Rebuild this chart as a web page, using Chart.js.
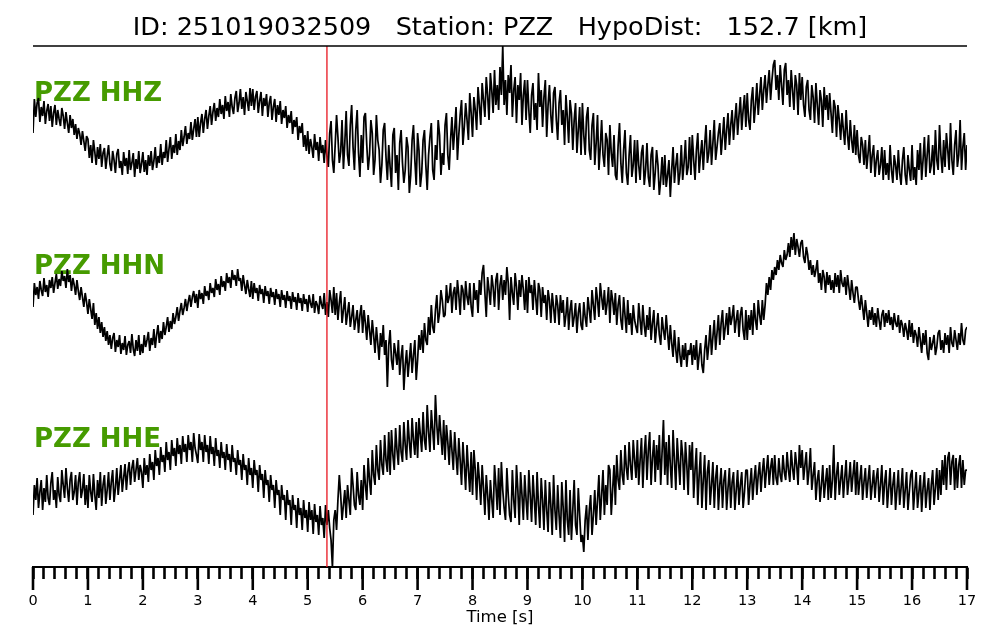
<!DOCTYPE html>
<html><head><meta charset="utf-8">
<script src="https://cdn.jsdelivr.net/npm/chart.js@4.4.1/dist/chart.umd.min.js"></script>
<style>html,body{margin:0;padding:0;background:#fff}canvas{display:block}</style>
</head><body>
<canvas id="c" width="1000" height="640"></canvas>
<script>
// ---------------- data ----------------
const titleText = 'ID: 251019032509   Station: PZZ   HypoDist:   152.7 [km]';
const channels = ['PZZ HHZ', 'PZZ HHN', 'PZZ HHE'];
const pickTime = 5.35;                // s (red marker)
const timeRange = [0, 17];            // s, samples evenly spaced (0.025 s)
const majorTickLabels = ['0','1','2','3','4','5','6','7','8','9','10','11','12','13','14','15','16','17'];
const minorTickStep = 0.2;
const axisTitle = 'Time [s]';

// amplitudes (arbitrary units), 40 samples per second, 0..17 s
const hhz = [
-8,26,8,22,27,3,18,9,24,1,14,21,4,19,-2,12,20,0,15,6,-1,17,9,-4,13,2,-8,10,-3,6,-10,1,-14,-3,-9,-20,-6,-16,-26,-11,
-14,-33,-20,-38,-15,-27,-40,-22,-34,-19,-42,-28,-23,-44,-31,-20,-39,-46,-26,-35,-48,-29,-24,-43,-36,-50,-27,-41,-33,-49,-25,-45,-38,-28,-52,-34,-44,-26,-48,-39,
-27,-47,-35,-50,-30,-41,-26,-45,-36,-22,-43,-31,-38,-19,-40,-27,-33,-15,-37,-24,-12,-34,-20,-28,-9,-30,-16,-25,-5,-21,-12,-1,-19,-8,-14,3,-15,-4,6,-12,
8,-12,2,11,-8,6,15,-4,9,19,0,13,22,4,17,8,26,11,20,6,29,14,23,8,31,18,11,27,34,13,22,36,16,28,10,33,24,14,37,19,
36,15,28,34,12,24,33,9,27,19,31,8,22,29,5,18,26,3,20,10,24,1,15,7,19,-3,10,2,14,-9,5,-2,8,-15,-1,-8,2,-22,-10,-26,
-6,-29,-14,-22,-33,-9,-25,-17,-36,-12,-28,-20,-38,-15,-31,-42,-8,4,-35,-48,-20,10,-12,-38,-27,5,-44,-18,14,-30,-41,0,20,-22,-45,-5,15,-28,-52,-10,
-38,8,12,-20,-45,-30,5,-8,-50,-35,10,-15,-25,-58,-40,-5,2,-32,-55,-20,-42,-62,-10,-3,-48,-30,-65,-18,-5,-38,-58,-45,-12,-22,-68,-50,-15,0,-35,-60,
-8,-25,-62,-48,-15,-5,-40,-65,-30,-12,2,-45,-55,-20,-35,5,-10,-50,-28,-40,0,12,-30,-45,-15,8,-25,-5,18,-35,-10,10,25,-20,-2,22,5,-15,32,12,
-12,28,15,-5,38,20,0,42,25,8,48,30,5,52,35,12,55,20,40,15,58,30,79,20,45,10,50,32,60,8,35,48,2,40,25,52,0,30,45,5,
45,15,-8,30,42,5,22,-5,52,18,35,-2,28,45,-12,20,40,10,-8,32,38,5,-15,22,35,0,15,-20,30,8,-18,25,12,-25,5,22,-28,-5,18,-30,
22,-10,-30,8,18,-25,-35,0,12,-40,-18,10,-45,-22,5,-30,-42,-8,-15,-50,0,-28,-42,-10,-50,-55,-20,2,-38,-58,-25,-5,-48,-60,-30,-10,-52,-40,-15,-58,
-15,-40,-55,-28,-20,-60,-45,-18,-52,-62,-30,-22,-65,-48,-25,-40,-70,-55,-32,-60,-30,-62,-50,-35,-72,-45,-22,-58,-40,-28,-60,-48,-20,-55,-38,-15,-50,-42,-12,-50,
-10,-35,-55,-25,-8,-48,-30,-15,-45,-20,0,-38,-28,-5,-40,-18,5,-35,-22,-8,2,-30,-12,8,-25,-5,12,-20,0,15,-15,5,22,-10,10,28,-5,15,30,-2,
32,5,-5,25,38,2,20,42,10,30,48,15,35,50,22,40,55,25,45,60,65,35,50,25,60,40,20,55,62,30,45,18,55,35,15,50,40,10,52,25,
48,20,8,38,45,15,5,40,28,2,42,20,0,35,25,-2,38,15,30,5,32,12,-8,25,18,-12,20,5,-15,12,-5,-20,15,-10,-25,5,-15,-28,0,-30,
-5,-30,-38,-12,-20,-40,-15,-44,-28,-10,-48,-30,-20,-52,-35,-25,-50,-40,-22,-55,-25,-50,-38,-55,-20,-45,-58,-30,-40,-55,-25,-48,-60,-35,-22,-50,-60,-30,-45,-56,
-20,-55,-42,-60,-25,-45,-18,-55,-35,-12,-52,-30,-10,-48,-40,-20,-50,-5,-35,-45,0,-30,-48,-15,-42,-8,-25,-45,2,-35,-50,-20,-5,-42,-30,5,-45,-22,-8,-45,
-20
];
const hhn = [
-2,22,10,18,6,24,15,9,27,13,20,8,25,17,28,12,22,31,16,26,19,34,24,29,17,36,23,30,14,27,20,10,25,14,5,18,8,-2,12,3,
-9,6,-4,-14,2,-20,-8,-24,-12,-28,-17,-32,-22,-36,-26,-40,-30,-44,-33,-28,-47,-35,-42,-30,-49,-38,-45,-31,-50,-40,-36,-48,-29,-44,-51,-35,-46,-30,-50,-39,
-48,-30,-42,-35,-27,-46,-33,-40,-24,-43,-30,-20,-38,-26,-34,-17,-30,-22,-12,-27,-16,-24,-8,-19,-12,-2,-16,-6,2,-10,-3,6,-6,3,10,-2,8,14,2,11,
-3,15,6,12,1,19,9,14,5,22,12,17,8,26,15,21,10,29,18,24,14,32,22,28,17,35,25,30,19,36,24,27,14,30,20,11,25,16,8,24,
6,22,12,17,4,20,11,16,2,19,9,14,1,17,8,13,0,16,6,11,-2,15,5,10,-3,14,4,9,-4,13,3,8,-5,12,2,7,-6,11,1,6,
-7,10,2,-3,11,-8,4,0,-9,9,1,-4,12,-10,3,-12,15,5,-8,18,-10,12,-15,2,14,-18,-5,8,-20,-8,3,-22,-12,0,-25,-15,-5,-28,-10,0,
-28,-5,-18,-35,-10,-25,-40,-15,-30,-48,-22,-38,-55,-28,-42,-20,-50,-35,-82,-40,-25,-55,-65,-38,-48,-60,-35,-70,-52,-40,-85,-60,-45,-72,-55,-38,-68,-50,-35,-75,
-55,-30,-45,-25,-48,-18,-35,-40,-12,-30,0,-22,-28,-5,10,-18,-8,15,5,-12,-10,20,2,8,22,-8,12,18,-5,25,10,-10,20,15,-5,24,8,0,22,-2,
-12,22,5,15,-8,25,10,32,40,12,-12,28,15,0,30,18,-2,25,32,-5,20,30,5,25,10,38,22,-15,28,12,0,32,18,-5,25,8,30,15,-5,25,
-8,28,12,20,-5,25,8,-10,22,15,-12,18,2,10,-15,15,5,-18,12,-2,-18,10,0,-20,10,-8,5,-22,-10,8,-25,-5,5,-22,-12,2,-28,-8,2,-20,
-25,3,-12,-22,8,-5,-18,15,0,-15,18,5,-12,22,8,-5,15,-10,2,18,-18,15,5,-10,12,-20,0,10,-15,-25,8,-10,-28,5,-20,-8,-30,0,-15,-22,
-28,2,-15,-30,0,-20,-32,-10,-25,-2,-35,-18,-5,-38,-22,-8,-30,-40,-12,-25,-35,-10,-28,-45,-20,-38,-52,-25,-45,-58,-32,-50,-62,-40,-55,-38,-62,-45,-50,-38,
-60,-40,-55,-35,-65,-50,-38,-60,-68,-45,-30,-55,-40,-20,-50,-32,-15,-45,-28,-10,-40,-18,-5,-35,-22,-8,-30,-2,-20,-12,0,-28,-15,-5,-32,-10,-2,-25,-35,-5,
-35,-10,-25,-5,-30,2,-15,-25,5,-10,-20,5,-15,0,22,10,28,15,35,25,38,30,45,35,50,42,38,55,45,50,62,48,68,55,72,50,66,58,48,62,
65,48,42,58,50,35,45,30,40,28,35,45,22,32,15,35,28,12,33,20,30,15,25,12,32,18,30,12,35,22,18,28,10,30,18,5,25,12,2,18,
18,5,-5,10,-2,-15,5,-8,-22,-5,-15,-2,-20,-8,-22,-3,-15,-25,-10,-5,-22,-8,-18,-5,-20,-12,-25,-8,-18,-22,-10,-28,-15,-20,-32,-18,-25,-35,-15,-32,
-18,-38,-25,-30,-42,-22,-35,-48,-28,-40,-25,-48,-55,-32,-45,-38,-30,-50,-42,-28,-25,-45,-35,-48,-28,-40,-30,-48,-22,-38,-42,-25,-35,-45,-28,-40,-18,-35,-40,-25,
-22
];
const hhe = [
-35,-5,-20,2,-28,-12,0,-30,-8,-22,5,-18,-25,-3,8,-20,-10,-28,3,-15,-22,10,-5,-18,12,-8,-22,0,8,-20,-12,5,-25,-2,8,-18,-10,6,-25,-5,
-28,5,-12,-22,6,-15,-30,0,-18,8,-26,-5,5,-24,-10,8,-20,-2,10,-22,-8,12,-15,0,15,-12,2,16,-10,8,18,-5,12,20,-2,10,22,0,15,8,
-8,22,5,15,-2,26,10,18,0,30,14,22,5,33,18,25,8,38,20,28,10,40,24,32,14,42,26,35,16,44,28,36,18,45,30,38,18,47,32,25,
17,46,30,38,18,45,28,35,16,44,26,33,14,42,24,30,12,38,22,28,10,36,20,26,8,35,18,22,5,30,15,20,0,26,10,15,-5,22,5,12,
-8,20,5,10,-12,15,0,6,-18,10,-5,0,-22,5,-10,-5,-28,0,-15,-10,-35,-5,-20,-15,-40,-10,-25,-20,-45,-15,-30,-25,-48,-18,-35,-28,-50,-20,-38,-30,
-52,-22,-40,-30,-54,-24,-42,-35,-55,-26,-45,-38,-58,-25,-45,-30,-48,-60,-87,-40,-30,-50,-20,5,-15,-40,-25,-10,-38,-5,-20,-35,12,-5,-25,-30,8,-15,-25,0,
-30,15,-5,-20,22,0,-15,30,5,-5,35,10,0,40,15,5,45,20,8,48,5,50,25,10,52,30,15,55,28,18,58,35,20,60,38,22,62,40,25,58,
22,62,45,28,68,40,30,75,48,28,70,50,30,85,55,35,65,45,25,60,20,55,38,15,50,30,10,48,25,5,42,20,-5,38,15,-10,35,10,-12,28,
-15,30,10,-20,18,0,-25,15,-8,-35,5,-15,-40,0,-20,-38,15,-5,-30,12,-35,18,-10,-28,-40,12,-15,-35,-42,10,-20,-38,15,-10,-45,8,-15,-40,5,-20,
-40,10,-15,-42,5,-20,-45,8,-25,-48,2,-20,-50,0,-30,-52,-2,-25,-55,5,-30,-50,-5,-35,-58,-2,-28,-62,0,-40,-55,-10,-60,-30,0,-45,-55,-8,-35,-62,
-55,-72,-40,-25,-60,-30,-15,-55,-35,-10,-45,-20,5,-40,-15,10,-35,-5,-25,15,10,-35,-10,15,-25,25,0,-10,30,5,-5,35,12,0,38,15,0,40,20,2,
40,-5,20,42,-8,25,45,0,30,48,-5,22,40,-2,35,10,45,-5,28,60,5,38,-5,45,15,-8,50,20,-10,42,18,-5,40,25,-10,38,15,-15,35,10,
38,-18,10,32,-25,5,28,-28,0,25,-30,8,20,-25,-5,18,-28,2,15,-30,-5,12,-28,0,10,-30,-8,12,-28,-2,8,-30,-10,10,-25,-5,8,-28,-12,10,
10,-25,-5,12,-20,0,15,-15,5,18,-12,8,22,-8,10,25,-5,12,22,-5,25,2,-5,22,5,-2,25,8,0,28,10,-2,30,12,0,28,15,-5,35,12,
30,0,15,28,-5,10,32,-10,5,18,-20,0,10,-22,-5,15,-18,-2,12,-20,15,-18,0,35,-20,5,18,-15,0,15,-18,2,20,-15,0,18,-12,5,20,-15,
18,-15,0,15,-20,-2,12,-18,0,15,-20,-5,10,-18,2,12,-22,-5,15,-25,-3,10,-28,-8,12,-25,-5,8,-30,-10,10,-25,-8,12,-28,-10,8,-30,-12,5,
10,-30,-10,8,-28,-12,5,-32,-8,8,-28,-10,2,-30,-5,10,-25,-8,12,-20,10,-15,20,-5,25,-10,22,28,-5,18,25,-10,22,-8,15,25,-8,20,-5,10,
10
];
const traces = [hhz, hhn, hhe];

// ---------------- layout / style ----------------
const traceOffsets = [442, 262, 87];   // vertical placement of each trace
const yRange = [0, 521];
const labelLift = [24, 31, 33];        // px above trace baseline
const labelColor = '#469b00';

function toPoints(arr, off) {
  const dt = (timeRange[1] - timeRange[0]) / (arr.length - 1);
  return arr.map((v, i) => ({ x: timeRange[0] + i * dt, y: v + off }));
}

const datasets = [{
  label: 'pick',
  data: [{ x: pickTime, y: yRange[0] }, { x: pickTime, y: yRange[1] }],
  borderColor: '#e8141e', borderWidth: 1.3, pointRadius: 0, order: -1
}];
traces.forEach((arr, k) => {
  datasets.push({
    label: channels[k],
    data: toPoints(arr, traceOffsets[k]),
    borderColor: '#000', borderWidth: 1.75, pointRadius: 0, tension: 0, order: 1,
    borderJoinStyle: 'bevel'
  });
});

const deco = {
  id: 'deco',
  beforeDatasetsDraw(chart) {
    const { ctx, scales } = chart;
    ctx.save();
    ctx.fillStyle = labelColor;
    ctx.font = 'bold 26px "DejaVu Sans"';
    ctx.textBaseline = 'alphabetic';
    ctx.textAlign = 'left';
    channels.forEach((name, k) => {
      const y = scales.y.getPixelForValue(traceOffsets[k]) - labelLift[k];
      ctx.fillText(name, scales.x.getPixelForValue(timeRange[0]) + 1, y);
    });
    ctx.restore();
  },
  afterDraw(chart) {
    const { ctx, chartArea, scales } = chart;
    ctx.save();
    ctx.strokeStyle = '#000';
    ctx.lineWidth = 1.5;
    ctx.beginPath();
    ctx.moveTo(chartArea.left, chartArea.top);
    ctx.lineTo(chartArea.right, chartArea.top);
    ctx.stroke();
    ctx.lineWidth = 2.6;
    ctx.lineCap = 'butt';
    majorTickLabels.forEach(l => {
      const x = scales.x.getPixelForValue(Number(l));
      ctx.beginPath();
      ctx.moveTo(x, chartArea.bottom);
      ctx.lineTo(x, chartArea.bottom + 23);
      ctx.stroke();
    });
    ctx.restore();
  }
};

new Chart(document.getElementById('c'), {
  type: 'line',
  data: { datasets },
  plugins: [deco],
  options: {
    responsive: false,
    animation: false,
    parsing: false,
    normalized: true,
    layout: { padding: { left: 33, right: 33, top: 0, bottom: 0 } },
    plugins: {
      legend: { display: false },
      tooltip: { enabled: false },
      title: {
        display: true, text: titleText, color: '#000',
        font: { family: 'DejaVu Sans', size: 25.5, weight: 'normal', lineHeight: 1.2 },
        padding: { top: 13.4, bottom: 2 }
      }
    },
    scales: {
      x: {
        type: 'linear', min: timeRange[0], max: timeRange[1],
        afterFit(s) { s.height = 73; },
        border: { display: true, color: '#000', width: 2 },
        grid: { drawOnChartArea: false, drawTicks: true, tickLength: 12, tickWidth: 2.6, tickColor: '#000' },
        ticks: {
          stepSize: minorTickStep, autoSkip: false, maxRotation: 0, minRotation: 0,
          padding: 14.5, color: '#000',
          font: { family: 'DejaVu Sans', size: 14.5, lineHeight: 1 },
          callback(v) {
            const r = Math.round(v);
            return Math.abs(v - r) < 1e-6 ? majorTickLabels[r] : '';
          }
        },
        title: {
          display: true, text: axisTitle, color: '#000',
          font: { family: 'DejaVu Sans', size: 16.5, lineHeight: 1 },
          padding: { top: 0, bottom: 14.5 }
        }
      },
      y: { type: 'linear', display: false, min: yRange[0], max: yRange[1] }
    }
  }
});
</script>
</body></html>
